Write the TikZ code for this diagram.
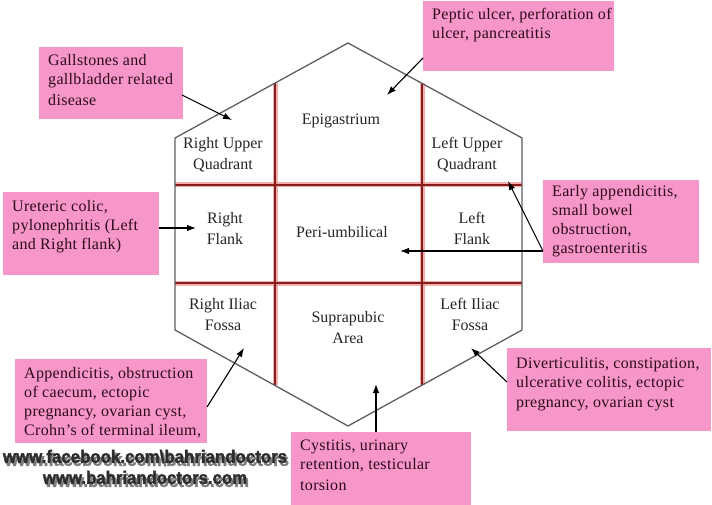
\documentclass[tikz,border=0pt]{standalone}
\usepackage{fontspec}
\setmainfont{Liberation Serif}
\newfontfamily\boxfont[LetterSpace=2]{Liberation Serif}
\newfontfamily\wmfont[BoldFeatures={FakeBold=2}]{Liberation Sans}
\usetikzlibrary{arrows.meta,calc}
\definecolor{pinkbox}{RGB}{247,150,201}
\definecolor{hexgray}{RGB}{95,95,95}
\definecolor{redline}{RGB}{135,28,28}
\definecolor{redglow}{RGB}{238,140,140}
\definecolor{boxtextc}{RGB}{45,10,25}
\definecolor{wmdark}{RGB}{45,45,45}
\definecolor{wmshadow}{RGB}{125,125,125}
\newcommand{\wmline}[2]{\makebox[0pt][l]{\hspace{2pt}\raisebox{-3pt}{\textcolor{wmshadow}{\resizebox{#1}{13pt}{#2}}}}\textcolor{wmdark}{\resizebox{#1}{13pt}{#2}}}
\begin{document}
\begin{tikzpicture}[x=1pt,y=-1pt,
  region/.style={align=center, font=\fontsize{16}{21}\selectfont, text=black!85, inner sep=0pt},
  pinkrect/.style={fill=pinkbox, draw=none, inner sep=0pt, anchor=north west},
  boxtext/.style={align=left, font=\boxfont\fontsize{16}{19}\selectfont, text=boxtextc, inner sep=0pt, anchor=base west},
  hexline/.style={draw=hexgray, line width=1.3pt, line join=miter},
  redglowline/.style={draw=redglow, line width=5pt, opacity=0.7},
  redmain/.style={draw=redline, line width=2.2pt},
  pointer/.style={draw=black, line width=1.1pt, -{Latex[length=9pt,width=6.5pt]}},
  wmtext/.style={inner sep=0pt, font=\wmfont\bfseries}
]
\useasboundingbox (0,0) rectangle (712,505);
\fill[white] (0,0) rectangle (712,505);

% hexagon vertices
\coordinate (T) at (348,43);
\coordinate (UL) at (175,138);
\coordinate (UR) at (522,138);
\coordinate (LL) at (175,330);
\coordinate (LR) at (522,330);
\coordinate (B) at (348,426);

% grid end points
\coordinate (v1t) at (275,83);
\coordinate (v1b) at (275,385);
\coordinate (v2t) at (422,83);
\coordinate (v2b) at (422,385);
\coordinate (h1l) at (175,185);
\coordinate (h1r) at (522,185);
\coordinate (h2l) at (175,283);
\coordinate (h2r) at (522,283);

% red grid
\foreach \a/\b in {v1t/v1b, v2t/v2b, h1l/h1r, h2l/h2r}{
  \draw[redglowline] (\a) -- (\b);
}
\foreach \a/\b in {v1t/v1b, v2t/v2b, h1l/h1r, h2l/h2r}{
  \draw[redmain] (\a) -- (\b);
}
% hexagon
\draw[hexline] (T) -- (UR) -- (LR) -- (B) -- (LL) -- (UL) -- cycle;

% region labels
\node[region] (epi) at (341,121) {Epigastrium};
\node[region] (ruq) at (223,155) {Right Upper\\Quadrant};
\node[region] (luq) at (467,155) {Left Upper\\Quadrant};
\node[region] (rfl) at (225,228.5) {Right\\Flank};
\node[region] (peri) at (342,232) {Peri-umbilical};
\node[region] (lfl) at (472,228.5) {Left\\Flank};
\node[region] (rif) at (223,314.5) {Right Iliac\\Fossa};
\node[region] (supra) at (348,327.5) {Suprapubic\\Area};
\node[region] (lif) at (470,314.5) {Left Iliac\\Fossa};

% pink boxes (text anchored at the baseline of its last line)
\node[pinkrect, minimum width=144pt, minimum height=72pt] (gall) at (39,47) {};
\node[boxtext] (gallT) at (48,106) {Gallstones and\\gallbladder related\\[2pt]disease};

\node[pinkrect, minimum width=191pt, minimum height=70pt] (pep) at (423,1) {};
\node[boxtext] (pepT) at (432,39) {Peptic ulcer, perforation of\\ulcer, pancreatitis};

\node[pinkrect, minimum width=156pt, minimum height=83pt] (ure) at (3,192) {};
\node[boxtext] (ureT) at (12,250) {Ureteric colic,\\pylonephritis (Left\\[1pt]and Right flank)};

\node[pinkrect, minimum width=156pt, minimum height=83pt] (early) at (543,180) {};
\node[boxtext] (earlyT) at (552,254) {Early appendicitis,\\small bowel\\obstruction,\\gastroenteritis};

\node[pinkrect, minimum width=192pt, minimum height=84pt] (app) at (15,359) {};
\node[boxtext] (appT) at (24,435) {Appendicitis, obstruction\\of caecum, ectopic\\pregnancy, ovarian cyst,\\Crohn’s of terminal ileum,};

\node[pinkrect, minimum width=180pt, minimum height=75pt] (cys) at (291,432) {};
\node[boxtext] (cysT) at (300,490) {Cystitis, urinary\\retention, testicular\\[2pt]torsion};

\node[pinkrect, minimum width=204pt, minimum height=83pt] (div) at (507,348) {};
\node[boxtext] (divT) at (516,407) {Diverticulitis, constipation,\\ulcerative colitis, ectopic\\[1pt]pregnancy, ovarian cyst};

% arrow coordinates
\coordinate (gallS) at (182,95);   \coordinate (gallE) at (232,120);
\coordinate (pepS) at (423,58);    \coordinate (pepE) at (387,95);
\coordinate (ureS) at (159,228);   \coordinate (ureE) at (196,228);
\coordinate (earS) at (543,251);   \coordinate (earE1) at (400,251);
\coordinate (earE2) at (508,181);
\coordinate (appS) at (207,407);   \coordinate (appE) at (244,348);
\coordinate (cysS) at (376,432);   \coordinate (cysE) at (376,384);
\coordinate (divS) at (507,382);   \coordinate (divE) at (471,348);

\draw[pointer] (gallS) -- (gallE);
\draw[pointer] (pepS) -- (pepE);
\draw[pointer] (ureS) -- (ureE);
\draw[pointer] (earS) -- (earE1);
\draw[pointer] (earS) -- (earE2);
\draw[pointer] (appS) -- (appE);
\draw[pointer] (cysS) -- (cysE);
\draw[pointer] (divS) -- (divE);

% watermark
\node[wmtext] (wm1) at (145,458) {\wmline{284pt}{www.facebook.com\textbackslash bahriandoctors}};
\node[wmtext] (wm2) at (145,479) {\wmline{204pt}{www.bahriandoctors.com}};
\end{tikzpicture}
\end{document}
